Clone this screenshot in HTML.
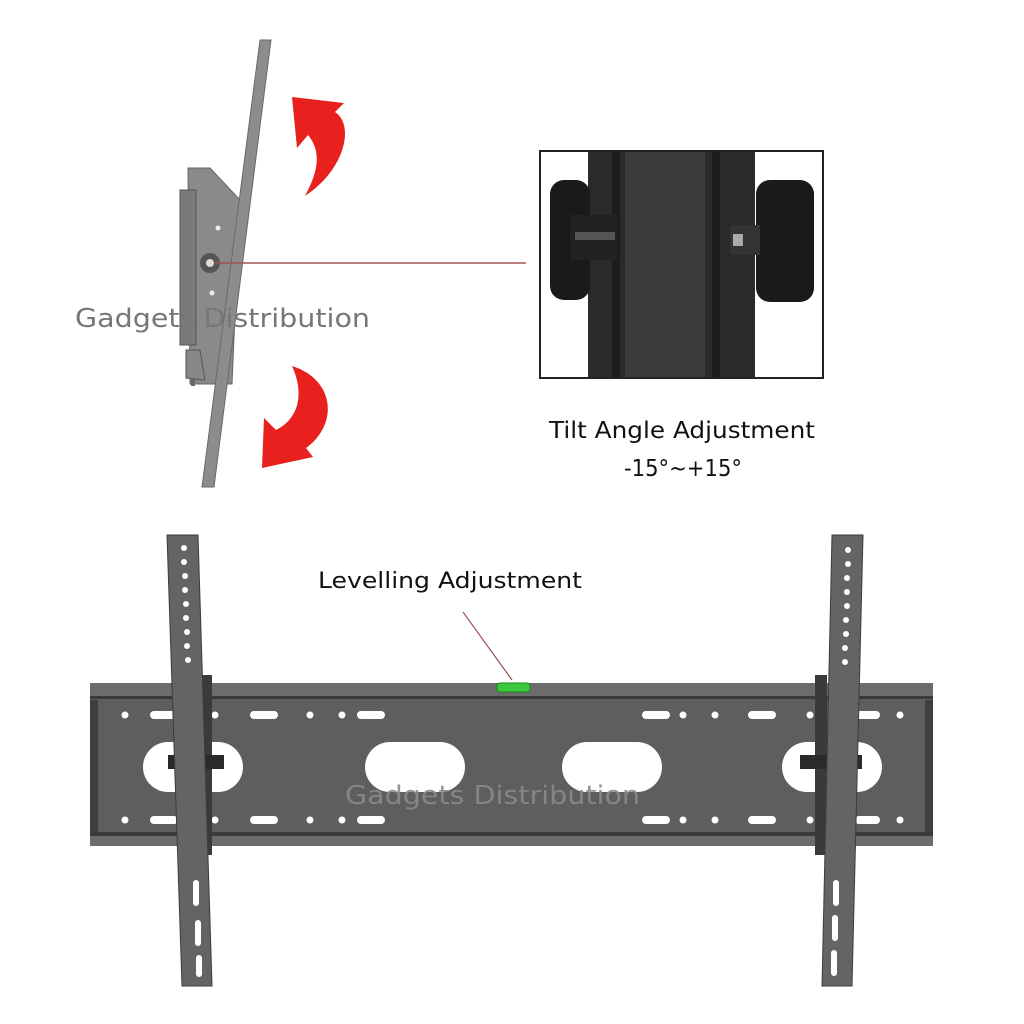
<!DOCTYPE html>
<html><head><style>
html,body{margin:0;padding:0;background:#fff;}
svg{display:block}
</style></head><body>
<svg width="1024" height="1024" viewBox="0 0 1024 1024" xmlns="http://www.w3.org/2000/svg" font-family="DejaVu Sans, Liberation Sans, sans-serif">
<rect width="1024" height="1024" fill="#fff"/>
<!-- side view bracket -->
<polygon points="188,168 210,168 240,200 232,384 190,384" fill="#8a8a8a" stroke="#666"/>
<rect x="180" y="190" width="16" height="155" fill="#7a7a7a" stroke="#555"/>
<polygon points="186,350 200,350 205,380 186,378" fill="#888" stroke="#555"/>
<rect x="191" y="378" width="4" height="8" fill="#666"/>
<circle cx="210" cy="263" r="10" fill="#555"/>
<circle cx="210" cy="263" r="4" fill="#ddd"/>
<circle cx="218" cy="228" r="2.5" fill="#eee"/>
<circle cx="212" cy="293" r="2.5" fill="#eee"/>
<polygon points="260,40 271,40 214,487 202,487" fill="#8c8c8c" stroke="#6a6a6a"/>
<line x1="215" y1="263" x2="526" y2="263" stroke="#a05050" stroke-width="1.5"/>
<!-- red arrows -->
<path d="M305,196 C345,170 355,125 335,112 L344,103 L292,97 L297,148 L308,135 C322,152 318,172 305,196 Z" fill="#e8211f"/>
<path d="M292,366 C336,380 338,425 306,448 L313,457 L262,468 L264,418 L276,430 C300,418 304,392 292,366 Z" fill="#e8211f"/>
<!-- inset -->
<rect x="540" y="151" width="283" height="227" fill="#fff" stroke="#222" stroke-width="2"/>
<rect x="588" y="152" width="167" height="225" fill="#2a2a2a"/>
<rect x="625" y="152" width="80" height="225" fill="#3c3c3c"/>
<rect x="612" y="152" width="8" height="225" fill="#1c1c1c"/>
<rect x="712" y="152" width="8" height="225" fill="#1c1c1c"/>
<rect x="550" y="180" width="40" height="120" rx="14" fill="#1a1a1a"/>
<rect x="570" y="215" width="48" height="45" fill="#222"/>
<rect x="575" y="232" width="40" height="8" fill="#555"/>
<rect x="756" y="180" width="58" height="122" rx="14" fill="#1a1a1a"/>
<rect x="730" y="225" width="30" height="30" fill="#333"/>
<rect x="733" y="234" width="10" height="12" fill="#aaa"/>
<text x="549" y="438" font-size="23" textLength="266" lengthAdjust="spacingAndGlyphs" fill="#111">Tilt Angle Adjustment</text>
<text x="624" y="476" font-size="23" textLength="118" lengthAdjust="spacingAndGlyphs" fill="#111">-15°~+15°</text>
<text x="75" y="327" font-size="26" textLength="295" lengthAdjust="spacingAndGlyphs" fill="#777">Gadgets Distribution</text>
<!-- front plate -->
<rect x="90" y="683" width="843" height="162" fill="#5e5e5e"/>
<rect x="90" y="683" width="843" height="14" fill="#6c6c6c"/>
<rect x="90" y="696" width="843" height="3" fill="#3a3a3a"/>
<rect x="90" y="832" width="843" height="4" fill="#3a3a3a"/>
<rect x="90" y="836" width="843" height="10" fill="#6c6c6c"/>
<rect x="90" y="700" width="8" height="132" fill="#3f3f3f"/>
<rect x="925" y="700" width="8" height="132" fill="#3f3f3f"/>
<g fill="#fff">
<rect x="143" y="742" width="100" height="50" rx="25"/>
<rect x="365" y="742" width="100" height="50" rx="25"/>
<rect x="562" y="742" width="100" height="50" rx="25"/>
<rect x="782" y="742" width="100" height="50" rx="25"/>
</g>
<defs>
<g id="row" fill="#fff">
<circle cx="125" cy="0" r="3.5"/>
<rect x="150" y="-4" width="28" height="8" rx="4"/>
<circle cx="215" cy="0" r="3.5"/>
<rect x="250" y="-4" width="28" height="8" rx="4"/>
<circle cx="310" cy="0" r="3.5"/>
<circle cx="342" cy="0" r="3.5"/>
<rect x="357" y="-4" width="28" height="8" rx="4"/>
<rect x="642" y="-4" width="28" height="8" rx="4"/>
<circle cx="683" cy="0" r="3.5"/>
<circle cx="715" cy="0" r="3.5"/>
<rect x="748" y="-4" width="28" height="8" rx="4"/>
<circle cx="810" cy="0" r="3.5"/>
<rect x="855" y="-4" width="25" height="8" rx="4"/>
<circle cx="900" cy="0" r="3.5"/>
</g>
</defs>
<use href="#row" transform="translate(0,715)"/>
<use href="#row" transform="translate(0,820)"/>
<!-- knobs & hangers -->
<rect x="200" y="675" width="12" height="180" fill="#3a3a3a"/>
<rect x="815" y="675" width="12" height="180" fill="#3a3a3a"/>
<rect x="168" y="755" width="56" height="14" fill="#2a2a2a"/>
<rect x="800" y="755" width="62" height="14" fill="#2a2a2a"/>
<!-- vertical bars -->
<polygon points="167,535 198,535 212,986 182,986" fill="#646464" stroke="#3c3c3c"/>
<polygon points="832,535 863,535 852,986 822,986" fill="#646464" stroke="#3c3c3c"/>
<g fill="#fff">
<circle cx="184" cy="548" r="3"/><circle cx="184" cy="562" r="3"/><circle cx="185" cy="576" r="3"/><circle cx="185" cy="590" r="3"/><circle cx="186" cy="604" r="3"/><circle cx="186" cy="618" r="3"/><circle cx="187" cy="632" r="3"/><circle cx="187" cy="646" r="3"/><circle cx="188" cy="660" r="3"/>
<circle cx="848" cy="550" r="3"/><circle cx="848" cy="564" r="3"/><circle cx="847" cy="578" r="3"/><circle cx="847" cy="592" r="3"/><circle cx="847" cy="606" r="3"/><circle cx="846" cy="620" r="3"/><circle cx="846" cy="634" r="3"/><circle cx="845" cy="648" r="3"/><circle cx="845" cy="662" r="3"/>
<rect x="193" y="880" width="6" height="26" rx="3"/><rect x="195" y="920" width="6" height="26" rx="3"/><rect x="196" y="955" width="6" height="22" rx="3"/>
<rect x="833" y="880" width="6" height="26" rx="3"/><rect x="832" y="915" width="6" height="26" rx="3"/><rect x="831" y="950" width="6" height="26" rx="3"/>
</g>
<!-- level -->
<line x1="463" y1="612" x2="512" y2="680" stroke="#a05050" stroke-width="1.2"/>
<rect x="497" y="683" width="33" height="9" rx="3" fill="#3cc83c" stroke="#1a8a1a"/>
<text x="318" y="588" font-size="22" textLength="264" lengthAdjust="spacingAndGlyphs" fill="#111">Levelling Adjustment</text>
<text x="345" y="804" font-size="26" textLength="295" lengthAdjust="spacingAndGlyphs" fill="#8a8a8a" fill-opacity="0.9">Gadgets Distribution</text>
</svg>
</body></html>
